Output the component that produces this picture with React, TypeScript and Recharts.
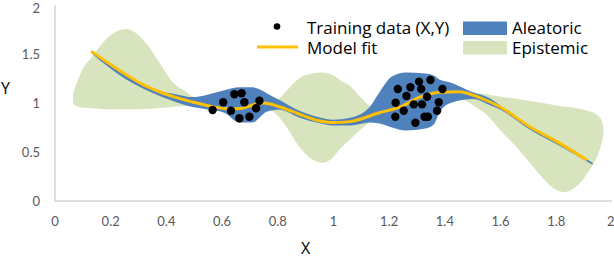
import {
  Area,
  ComposedChart,
  Legend,
  Line,
  Scatter,
  XAxis,
  YAxis,
} from "recharts";

const xTicks = [0, 0.2, 0.4, 0.6, 0.8, 1, 1.2, 1.4, 1.6, 1.8, 2];
const yTicks = [0, 0.5, 1, 1.5, 2];

// model fit (orange line)
const fitX = [0.13, 0.19, 0.254, 0.314, 0.374, 0.434, 0.494, 0.554, 0.626, 0.674, 0.71, 0.75, 0.806, 0.878, 0.938, 1.0, 1.058, 1.165, 1.24, 1.31, 1.38, 1.45, 1.52, 1.597, 1.705, 1.813, 1.91];
const fitY = [1.53, 1.41, 1.29, 1.19, 1.115, 1.058, 1.01, 0.97, 0.94, 0.946, 0.98, 1.0, 0.962, 0.885, 0.827, 0.8, 0.81, 0.9, 0.96, 1.06, 1.11, 1.115, 1.06, 0.962, 0.758, 0.588, 0.418];

// aleatoric band (blue)
const aleX = [0.13, 0.25, 0.374, 0.434, 0.494, 0.54, 0.608, 0.662, 0.71, 0.734, 0.76, 0.806, 0.878, 0.94, 1.0, 1.06, 1.13, 1.165, 1.21, 1.26, 1.33, 1.36, 1.38, 1.42, 1.5, 1.56, 1.6, 1.705, 1.813, 1.93];
const aleLo = [1.51, 1.25, 1.075, 1.01, 0.96, 0.94, 0.9, 0.8, 0.8, 0.85, 0.91, 0.93, 0.85, 0.8, 0.77, 0.77, 0.8, 0.79, 0.75, 0.72, 0.74, 0.78, 0.9, 1.0, 1.04, 0.98, 0.93, 0.73, 0.56, 0.37];
const aleHi = [1.535, 1.29, 1.125, 1.09, 1.06, 1.08, 1.13, 1.16, 1.16, 1.14, 1.1, 1.03, 0.92, 0.86, 0.83, 0.85, 0.96, 1.11, 1.27, 1.31, 1.3, 1.28, 1.24, 1.21, 1.11, 1.05, 0.97, 0.765, 0.595, 0.39];

// epistemic band (green)
const epiX = [0.065, 0.08, 0.1, 0.133, 0.18, 0.255, 0.33, 0.375, 0.42, 0.47, 0.51, 0.55, 0.65, 0.75, 0.8, 0.83, 0.878, 0.925, 0.96, 1.0, 1.02, 1.06, 1.11, 1.15, 1.2, 1.3, 1.4, 1.47, 1.5, 1.55, 1.6, 1.66, 1.705, 1.753, 1.79, 1.824, 1.873, 1.92, 1.95, 1.965, 1.97];
const epiLo = [0.99, 0.965, 0.955, 0.946, 0.937, 0.935, 0.94, 0.95, 0.96, 0.97, 0.96, 0.93, 0.92, 0.95, 0.87, 0.76, 0.55, 0.42, 0.39, 0.45, 0.52, 0.63, 0.76, 0.84, 0.9, 1.0, 1.07, 1.03, 0.98, 0.88, 0.72, 0.54, 0.39, 0.23, 0.13, 0.09, 0.15, 0.32, 0.48, 0.62, 0.7];
const epiHi = [1.1, 1.22, 1.35, 1.47, 1.64, 1.755, 1.6, 1.41, 1.22, 1.115, 1.04, 1.0, 0.98, 1.02, 1.04, 1.12, 1.255, 1.3, 1.31, 1.28, 1.24, 1.17, 1.02, 0.94, 0.98, 1.09, 1.15, 1.13, 1.11, 1.09, 1.064, 1.04, 1.02, 1.0, 0.98, 0.965, 0.946, 0.915, 0.87, 0.8, 0.72];

// training data points
const trainX = [0.566, 0.604, 0.644, 0.67, 0.68, 0.632, 0.662, 0.698, 0.722, 0.734, 1.231, 1.276, 1.307, 1.348, 1.315, 1.391, 1.262, 1.336, 1.223, 1.288, 1.318, 1.378, 1.252, 1.372, 1.222, 1.327, 1.339, 1.294];
const trainY = [0.929, 1.007, 1.089, 1.099, 1.007, 0.921, 0.844, 0.86, 0.946, 1.023, 1.143, 1.16, 1.218, 1.235, 1.143, 1.143, 1.071, 1.064, 1.003, 0.986, 0.986, 1.007, 0.921, 0.921, 0.86, 0.86, 0.86, 0.799];

const legendItems = [
  { label: "Training data (X,Y)", kind: "dot", color: "#000000" },
  { label: "Model fit", kind: "line", color: "#FFC000" },
  { label: "Aleatoric", kind: "rect", color: "#4F81BD" },
  { label: "Epistemic", kind: "rect", color: "#D7E4BD" },
];

const fitRows = fitX.map((x, i) => ({ x, y: fitY[i] }));
const aleRows = aleX.map((x, i) => ({ x, range: [aleLo[i], aleHi[i]] }));
const epiRows = epiX.map((x, i) => ({ x, range: [epiLo[i], epiHi[i]] }));
const trainRows = trainX.map((x, i) => ({ x, y: trainY[i] }));

const FONT = "Lato, 'Liberation Sans', sans-serif";
const LEGEND_FONT = "'Open Sans', 'Liberation Sans', sans-serif";

const LegendBox = () => (
  <svg width={614} height={62} style={{ display: "block" }}>
    {legendItems.map((item, i) => {
      const col = i < 2 ? 0 : 1;
      const row = i % 2;
      const tx = col === 0 ? 307 : 512;
      const base = 34 + row * 20;
      return (
        <g key={item.label}>
          {item.kind === "dot" && (
            <circle cx={277} cy={base - 7.5} r={3.3} fill={item.color} />
          )}
          {item.kind === "line" && (
            <line x1={257} x2={298} y1={base - 7} y2={base - 7} stroke={item.color} strokeWidth={3} />
          )}
          {item.kind === "rect" && (
            <rect x={463} y={base - 12.5 + row * -0.5} width={44} height={13.5} fill={item.color} />
          )}
          <text x={tx} y={base} fontSize={17} fontFamily={LEGEND_FONT} fill="#000">
            {item.label}
          </text>
        </g>
      );
    })}
  </svg>
);

export default function App() {
  return (
    <div style={{ position: "absolute", left: 0, top: 0, background: "#fff" }}>
      <ComposedChart
        width={614}
        height={258}
        margin={{ top: 5, right: 2, bottom: 0, left: 15 }}
      >
        <XAxis
          type="number"
          dataKey="x"
          domain={[0, 2]}
          ticks={xTicks}
          allowDataOverflow
          height={57}
          stroke="#BFBFBF"
          tickLine={false}
          tickMargin={10}
          tick={{ fill: "#595959", fontSize: 13, fontFamily: FONT }}
          label={{ value: "X", position: "insideBottom", offset: 4, dx: -28, fill: "#000", fontSize: 16, fontFamily: LEGEND_FONT }}
        />
        <YAxis
          type="number"
          domain={[0, 2]}
          ticks={yTicks}
          allowDataOverflow
          width={40}
          stroke="#BFBFBF"
          tickLine={false}
          tickMargin={9}
          tick={{ fill: "#595959", fontSize: 13, fontFamily: FONT }}
          label={{ value: "Y", position: "insideLeft", offset: -14, dy: -15, fill: "#000", fontSize: 16, fontFamily: LEGEND_FONT }}
        />
        <Legend
          layout="vertical"
          align="center"
          verticalAlign="middle"
          wrapperStyle={{ top: 0, left: 0, width: 614, height: 62 }}
          content={() => <LegendBox />}
        />
        <Area
          data={epiRows}
          dataKey="range"
          type="monotone"
          stroke="none"
          fill="#D7E4BD"
          fillOpacity={1}
          isAnimationActive={false}
        />
        <Area
          data={aleRows}
          dataKey="range"
          type="monotone"
          stroke="none"
          fill="#4F81BD"
          fillOpacity={1}
          isAnimationActive={false}
        />
        <Line
          data={fitRows}
          dataKey="y"
          type="monotone"
          stroke="#FFC000"
          strokeWidth={3}
          dot={false}
          activeDot={false}
          isAnimationActive={false}
        />
        <Scatter
          data={trainRows}
          dataKey="y"
          fill="#000"
          isAnimationActive={false}
          shape={(p: any) => <circle cx={p.cx} cy={p.cy} r={4.2} fill="#000" />}
        />
      </ComposedChart>
    </div>
  );
}
